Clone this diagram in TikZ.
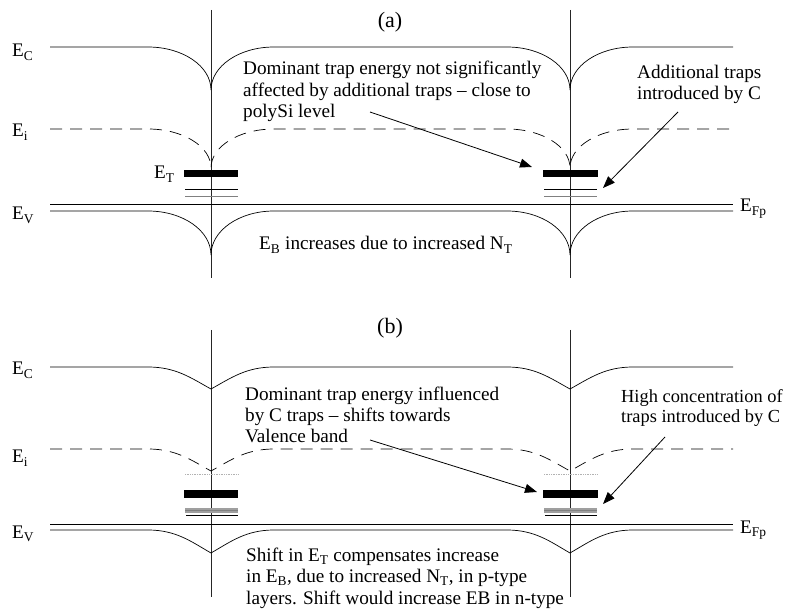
\documentclass[tikz,border=0pt]{standalone}
\usepackage{fontspec}
\setmainfont{Liberation Serif}
\usetikzlibrary{arrows.meta}
\tikzset{
 band/.style={line width=0.7pt},
 dashband/.style={line width=0.7pt, dash pattern=on 12pt off 8pt},
 vline/.style={line width=0.8pt, black!85},
 txt/.style={font=\fontsize{19.2}{21.5}\selectfont, inner sep=0pt, align=left, anchor=base west},
 lbl/.style={font=\fontsize{19.2}{21.5}\selectfont, inner sep=0pt, anchor=base west},
 ttl/.style={font=\fontsize{22}{26}\selectfont, inner sep=0pt, anchor=base},
 arr/.style={line width=0.8pt, -{Triangle[length=12pt,width=9pt]}},
 trapbar/.style={fill=black, draw=none},
 cuspa/.style n args={3}{insert path={-- ({#1-63},#2) .. controls ({#1-28},#2) and (#1,{#3-0.552*(#3-#2)}) .. (#1,#3) .. controls (#1,{#3-0.552*(#3-#2)}) and ({#1+28},#2) .. ({#1+63},#2)}},
 cuspb/.style n args={3}{insert path={-- ({#1-63},#2) .. controls ({#1-35},#2) and ({#1-20},{#3-0.5*(#3-#2)}) .. (#1,#3) .. controls ({#1+20},{#3-0.5*(#3-#2)}) and ({#1+35},#2) .. ({#1+63},#2)}},
}
\begin{document}
\begin{tikzpicture}[x=1pt,y=-1pt]
\useasboundingbox (0,0) rectangle (788,612);
% ===== panel (a) =====
\draw[vline] (211,10) -- (211,278);
\draw[vline] (570,10) -- (570,278);
\draw[band] (50,47) [cuspa={211}{47}{90}] [cuspa={570}{47}{90}] -- (733,47);
\draw[dashband] (50,129) [cuspa={211}{129}{168}] [cuspa={570}{129}{168}] -- (733,129);
\draw[band] (50,204) -- (733,204);
\draw[band] (50,211) [cuspa={211}{211}{255}] [cuspa={570}{211}{255}] -- (733,211);
\fill[trapbar] (184,170) rectangle (238,177);
\draw[band] (185,189) -- (238,189);
\draw[band, gray] (185,196) -- (238,196);
\fill[trapbar] (543,170) rectangle (598,177);
\draw[band] (544,189) -- (597,189);
\draw[band, gray] (544,196) -- (597,196);

\node[ttl] (ta) at (390,28) {(a)};
\node[lbl] (eca) at (12,57) {E\textsubscript{C}};
\node[lbl] (eia) at (12,137) {E\textsubscript{i}};
\node[lbl] (eva) at (12,220) {E\textsubscript{V}};
\node[lbl] (eta) at (154,179) {E\textsubscript{T}};
\node[lbl] (efa) at (740,212) {E\textsubscript{Fp}};
\node[lbl] (eba) at (259,250) {E\textsubscript{B} increases due to increased N\textsubscript{T}};
\node[txt] (doma) at (243,118) {Dominant trap energy not significantly\\affected by additional traps -- close to\\polySi level};
\node[txt] (adda) at (637,100) {Additional traps\\introduced by C};
\coordinate (doma s) at (370,112);
\coordinate (doma e) at (532,167);
\coordinate (adda s) at (678,112);
\coordinate (adda e) at (603,188);
\draw[arr] (doma s) -- (doma e);
\draw[arr] (adda s) -- (adda e);

% ===== panel (b) =====
\draw[vline] (211,330) -- (211,597);
\draw[vline] (570,330) -- (570,597);
\draw[band] (50,367) [cuspb={211}{367}{389}] [cuspb={570}{367}{389}] -- (733,367);
\draw[dashband] (50,449) [cuspb={211}{449}{471}] [cuspb={570}{449}{471}] -- (733,449);
\draw[line width=0.7pt, gray!60, densely dotted] (185,474) -- (238,474);
\draw[line width=0.7pt, gray!60, densely dotted] (544,474) -- (597,474);
\draw[band] (50,524) -- (733,524);
\draw[band] (50,530) [cuspb={211}{530}{553}] [cuspb={570}{530}{553}] -- (733,530);
\fill[trapbar] (184,490) rectangle (238,498);
\fill[gray!75] (185,508) rectangle (238,513);
\draw[line width=0.6pt, gray] (185,510.5) -- (238,510.5);
\draw[line width=0.8pt] (186,515.5) -- (238,515.5);
\fill[trapbar] (543,490) rectangle (598,498);
\fill[gray!75] (544,508) rectangle (597,513);
\draw[line width=0.6pt, gray] (544,510.5) -- (597,510.5);
\draw[line width=0.8pt] (545,515.5) -- (597,515.5);

\node[ttl] (tb) at (390,334) {(b)};
\node[lbl] (ecb) at (12,375) {E\textsubscript{C}};
\node[lbl] (eib) at (12,463) {E\textsubscript{i}};
\node[lbl] (evb) at (12,538) {E\textsubscript{V}};
\node[lbl] (efb) at (740,533) {E\textsubscript{Fp}};
\node[txt] (domb) at (245,443) {Dominant trap energy influenced\\by C traps -- shifts towards\\Valence band};
\node[txt, font=\fontsize{18.4}{20.5}\selectfont] (highb) at (621,423) {High concentration of\\traps introduced by C};
\node[txt] (shiftb) at (246,604) {Shift in E\textsubscript{T} compensates increase\\in E\textsubscript{B}, due to increased N\textsubscript{T}, in p-type\\layers. Shift would increase EB in n-type};
\coordinate (domb s) at (370,440);
\coordinate (domb e) at (537,492);
\coordinate (highb s) at (665,437);
\coordinate (highb e) at (603,504);
\draw[arr] (domb s) -- (domb e);
\draw[arr] (highb s) -- (highb e);
\end{tikzpicture}
\end{document}
